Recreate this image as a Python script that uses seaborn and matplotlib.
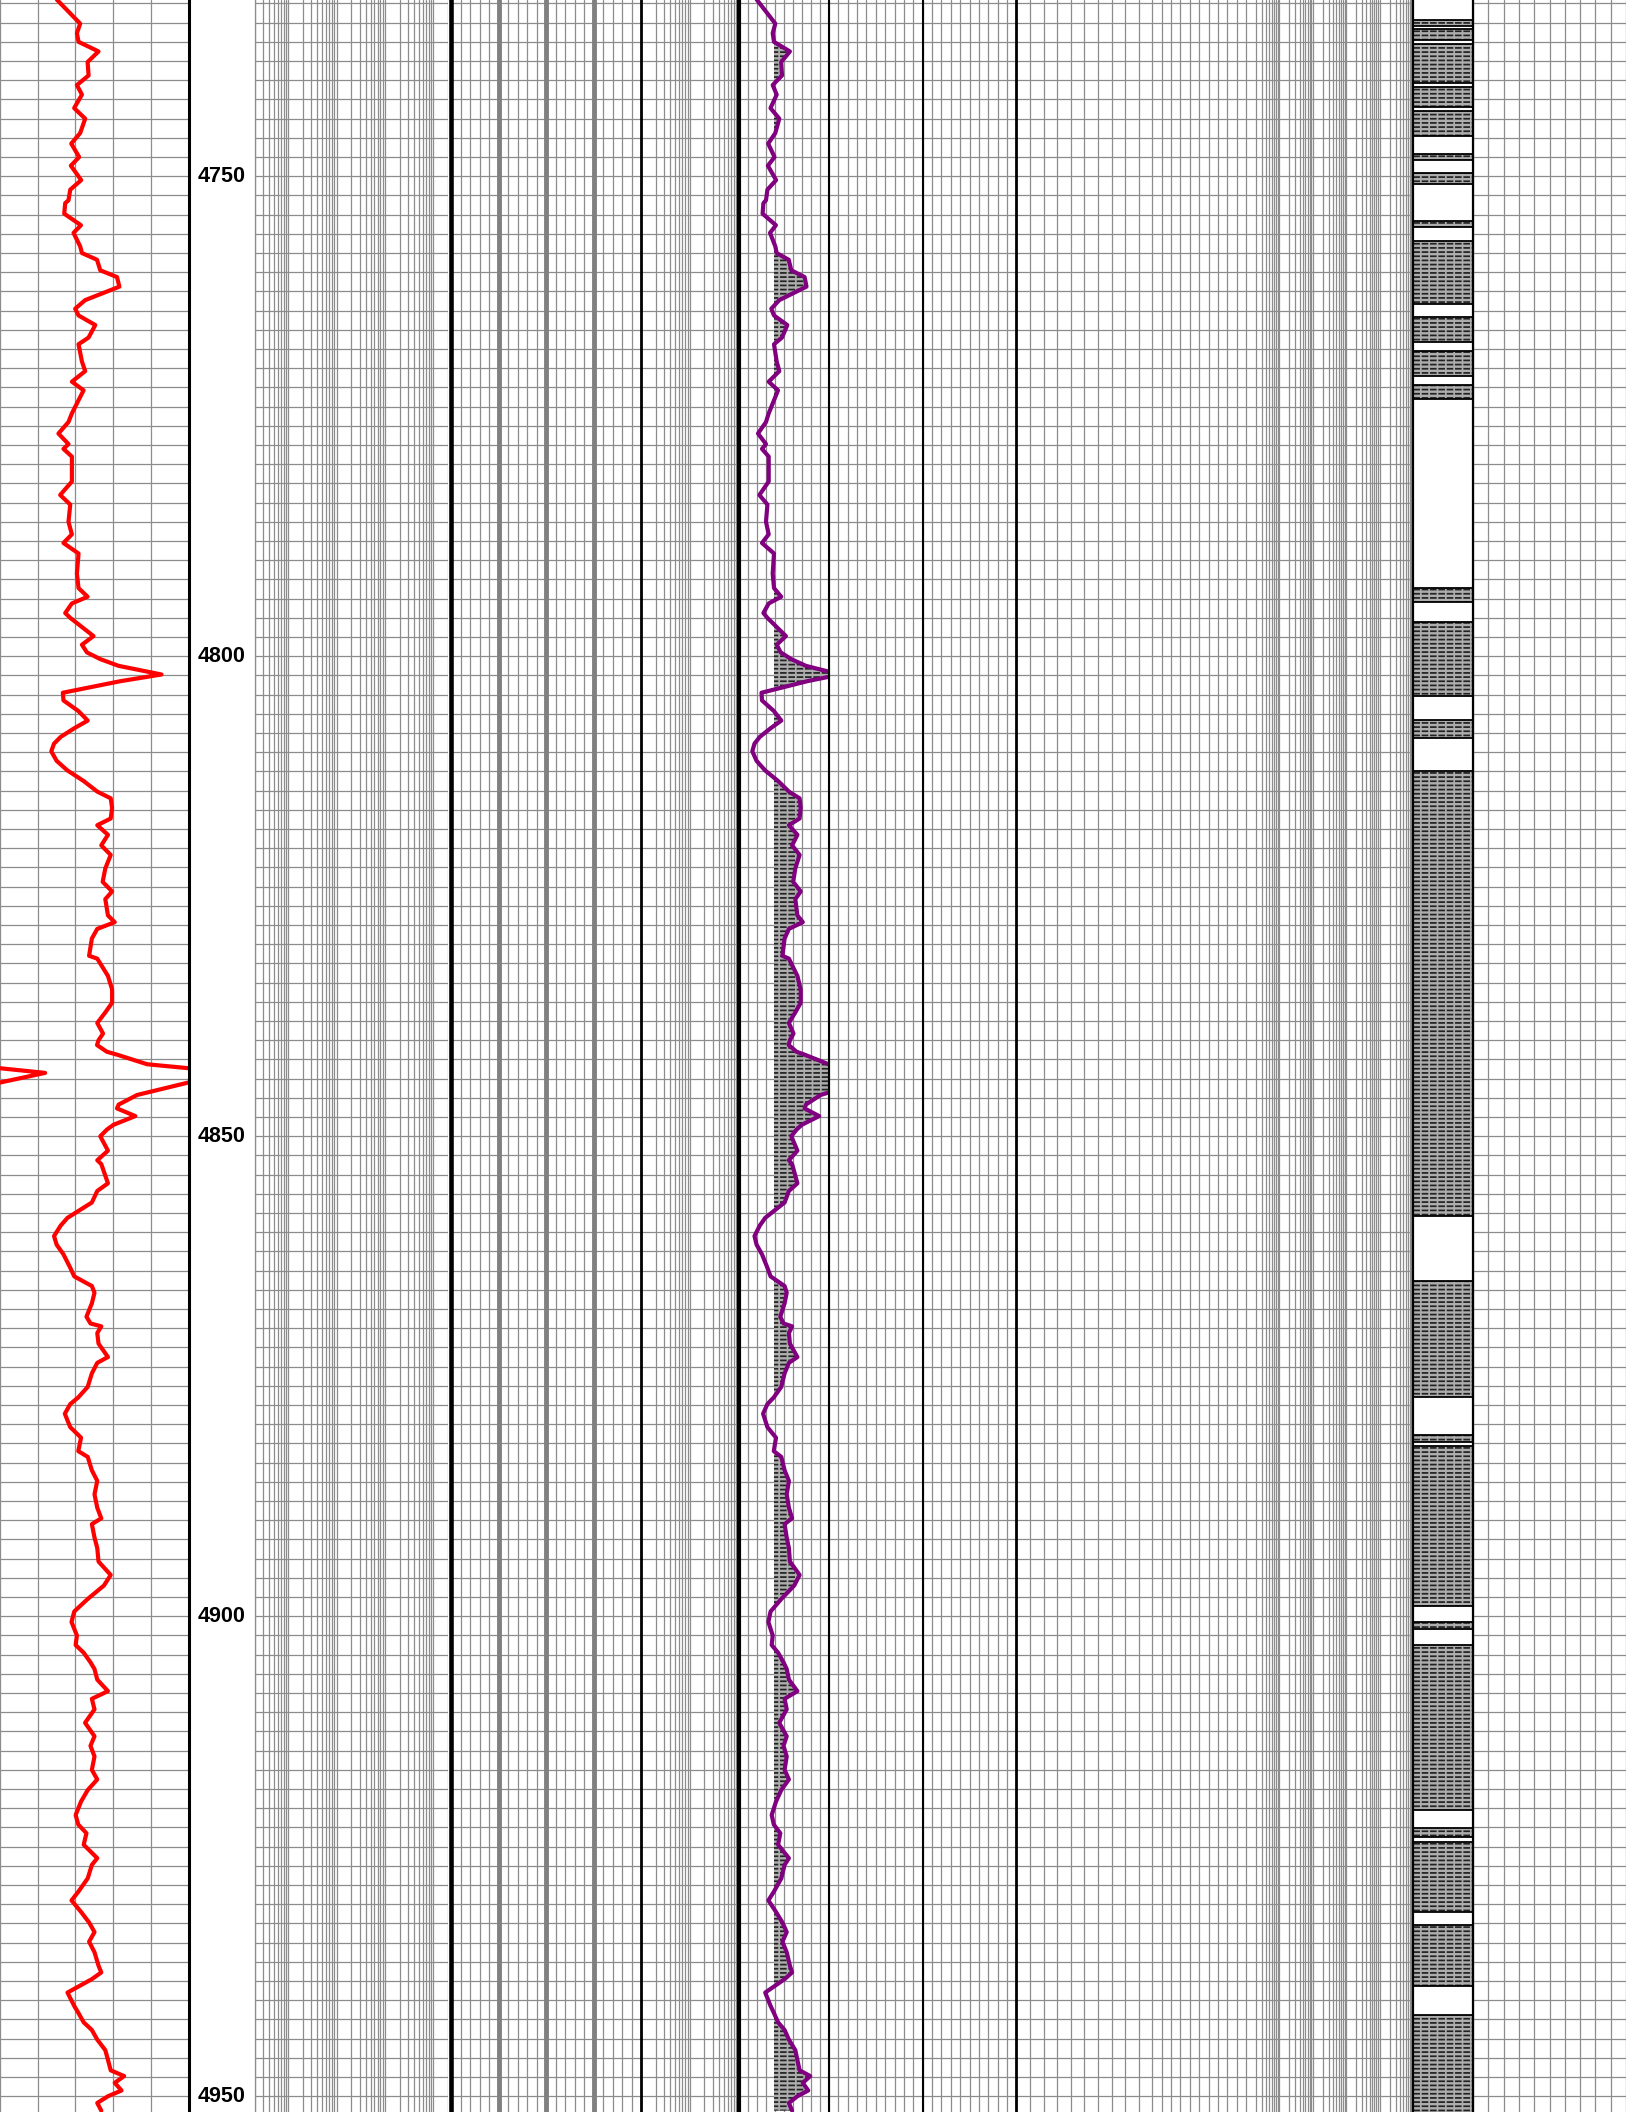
import numpy as np
import pandas as pd
import matplotlib
matplotlib.use("Agg")
import matplotlib.pyplot as plt
import seaborn as sns
from matplotlib.ticker import MultipleLocator, LogLocator, FixedLocator, NullLocator

sns.set_theme(style="white")
plt.rcParams["font.family"] = ["Liberation Sans", "DejaVu Sans"]
plt.rcParams["hatch.linewidth"] = 1.25

# ---------------- data ----------------
depth_gr = [
    4731.6, 4734.1, 4735.1, 4736.0, 4737.0, 4738.1, 4739.5, 4740.5, 4741.5, 4742.9,
    4744.0, 4745.5, 4746.6, 4748.0, 4748.9, 4750.4, 4751.4, 4752.5, 4752.8, 4753.9,
    4755.1, 4755.9, 4757.3, 4758.0, 4758.7, 4759.8, 4760.5, 4761.5, 4762.9,
    4763.8, 4764.5, 4765.5, 4766.8, 4767.5, 4769.3, 4770.3, 4771.4, 4772.3, 4774.7,
    4775.6, 4776.8, 4777.9, 4778.4, 4779.2, 4781.8, 4783.2, 4784.2, 4786.0, 4787.3,
    4788.2, 4789.3, 4791.4, 4792.9, 4793.8, 4794.5, 4795.5, 4796.0, 4797.9, 4798.8,
    4799.6, 4800.3, 4801.0, 4801.9, 4802.6, 4803.8,
    4804.6, 4805.7, 4806.7, 4807.5, 4808.4, 4809.1, 4809.9, 4810.9, 4811.9, 4813.0,
    4814.1, 4814.8, 4815.8, 4816.9, 4817.6, 4818.6, 4819.7, 4820.7, 4822.1, 4823.5,
    4824.5, 4825.3, 4827.0, 4827.7, 4828.4, 4829.4, 4831.2, 4831.5, 4833.3, 4834.7,
    4836.1, 4837.1, 4838.2, 4839.3,
    4840.0, 4840.5, 4841.2, 4841.5, 4842.5, 4842.9, 4843.4, 4844.4, 4845.7, 4846.7,
    4847.1, 4847.9, 4848.8, 4849.3, 4850.0,
    4851.5, 4852.5, 4852.9, 4854.9, 4855.7, 4856.9, 4858.5, 4859.3, 4860.4, 4861.3,
    4862.3, 4863.7, 4864.6, 4865.6, 4866.3, 4867.4, 4868.8, 4869.5, 4869.8, 4870.5,
    4871.6, 4873.0, 4873.6, 4874.7, 4876.1, 4877.2, 4877.9, 4878.9, 4879.6, 4880.3,
    4881.4, 4882.8, 4883.4, 4884.8, 4885.9, 4887.3, 4888.7, 4889.8, 4890.4, 4891.8,
    4892.9, 4894.3, 4895.7, 4896.8, 4898.2, 4899.5, 4900.6, 4902.0, 4903.0, 4903.8,
    4904.8, 4905.5, 4906.6, 4907.8, 4908.6, 4909.7, 4911.1, 4912.5, 4913.5, 4914.6,
    4916.0, 4917.0, 4918.1, 4919.3, 4920.7, 4921.7, 4922.6, 4923.8, 4925.2, 4925.9,
    4927.3, 4928.7, 4929.6, 4930.8, 4931.9, 4932.9, 4933.9, 4935.0, 4936.4, 4937.1,
    4937.8, 4939.2, 4940.6, 4941.3, 4942.3, 4943.1, 4944.1, 4945.2, 4946.2, 4947.3,
    4947.9, 4948.6, 4949.4, 4950.0, 4950.7, 4951.5,
]
gr = [
    45.2, 63.8, 61.2, 62.5, 78.4, 69.7, 70.5, 61.2, 65.2, 59.0,
    67.8, 63.8, 56.7, 63.0, 56.4, 64.6, 55.9, 54.5, 51.9, 51.1,
    64.4, 58.5, 63.8, 65.2, 77.2, 79.8, 93.1, 95.0, 67.8,
    59.8, 62.5, 75.8, 70.5, 62.5, 65.2, 67.8, 57.2, 66.5, 57.2,
    54.5, 46.5, 54.5, 50.5, 57.2, 57.2, 47.9, 55.9, 54.5, 57.2,
    50.5, 62.5, 61.2, 62.5, 69.7, 57.2, 51.9, 55.9, 74.4, 65.2,
    69.2, 79.8, 94.4, 128.5, 95.7, 50.0,
    50.5, 62.3, 69.8, 59.1, 48.3, 43.0, 40.8, 45.1, 53.7, 66.6,
    77.4, 88.1, 89.2, 88.1, 77.4, 85.9, 80.6, 88.1, 83.8, 81.7,
    89.2, 83.8, 85.9, 91.3, 77.4, 73.1, 70.9, 77.4, 85.9, 89.2,
    89.2, 83.8, 77.4, 82.0,
    78.4, 77.2, 85.1, 93.1, 117.1, 149.0, 185.9, 150.0, 109.1, 94.4,
    93.1, 107.7, 90.4, 85.1, 79.8,
    85.9, 77.4, 80.6, 85.9, 77.4, 73.1, 53.7, 48.3, 43.0, 45.1,
    50.5, 55.9, 59.1, 73.1, 75.2, 73.1, 68.8, 72.0, 80.6, 77.4,
    78.4, 85.9, 77.4, 73.1, 69.8, 62.3, 55.9, 51.6, 53.7, 55.9,
    64.5, 62.3, 69.8, 73.1, 77.4, 75.2, 77.4, 80.6, 73.1, 75.2,
    77.4, 78.4, 88.1, 82.7, 69.8, 59.1, 56.9, 61.2, 60.2, 66.6,
    72.0, 75.2, 77.4, 85.9, 73.1, 75.2, 67.7, 75.2, 72.0, 75.2,
    73.1, 77.4, 69.8, 64.5, 60.2, 62.3, 68.8, 66.6, 77.4, 73.1,
    69.8, 62.3, 56.9, 64.5, 70.9, 75.2, 70.9, 75.2, 78.4, 80.6,
    73.1, 53.7, 59.1, 62.3, 66.6, 73.1, 77.4, 83.8, 85.9, 88.1,
    98.8, 91.3, 96.7, 85.9, 77.4, 80.6,
]

shale_top = [
    4733.7, 4734.7, 4736.2, 4740.7, 4743.2, 4747.7, 4749.7, 4754.7, 4756.7, 4764.7,
    4768.2, 4771.7, 4792.9, 4796.4, 4806.6, 4812.0, 4865.1, 4881.1, 4882.3, 4900.6,
    4903.0, 4922.1, 4923.5, 4932.2, 4941.5,
]
shale_base = [
    4734.3, 4735.8, 4740.25, 4742.8, 4745.8, 4748.3, 4750.8, 4755.3, 4763.3, 4767.3,
    4770.8, 4773.2, 4794.3, 4804.1, 4808.5, 4858.3, 4877.2, 4881.9, 4898.9, 4901.3,
    4920.2, 4923.0, 4930.8, 4938.5, 4953.0,
]

depth_labels = [4750, 4800, 4850, 4900, 4950]

TOP, BASE = 4731.64, 4951.64
GR_MIN, GR_MAX = 0, 150
GR2_MIN, GR2_MAX = 27.0, 117.5
GR_CUTOFF = 62.5

df = pd.DataFrame({"DEPTH": depth_gr, "GR": gr})
df["GR_WRAP"] = df["GR"] - (GR_MAX - GR_MIN)

# ---------------- layout ----------------
W, H = 1632, 2112
fig = plt.figure(figsize=(W / 100, H / 100), dpi=100)
fig.patch.set_facecolor("white")

GRID = "#8c8c8c"
GLW = 0.9
SH_FACE = "#adadad"
SH_DASH = "#222222"


def track(x0, x1, hgrid=True):
    ax = fig.add_axes([x0 / W, 0, (x1 - x0) / W, 1])
    ax.set_ylim(BASE, TOP)
    for s in ax.spines.values():
        s.set_visible(False)
    ax.set_facecolor("none")
    if hgrid:
        ax.yaxis.set_major_locator(MultipleLocator(2))
        ax.grid(axis="y", which="major", color=GRID, lw=GLW)
    else:
        ax.yaxis.set_major_locator(NullLocator())
    ax.yaxis.set_minor_locator(NullLocator())
    ax.tick_params(which="both", left=False, right=False, top=False, bottom=False,
                   labelleft=False, labelbottom=False)
    ax.set_axisbelow(True)
    return ax


def lin_grid(ax, lo, hi, n):
    ax.set_xlim(lo, hi)
    ax.xaxis.set_major_locator(FixedLocator(np.linspace(lo, hi, n + 1)))
    ax.xaxis.set_minor_locator(NullLocator())
    ax.grid(axis="x", which="major", color=GRID, lw=GLW)


def log_grid(ax, lo, hi):
    ax.set_xscale("log")
    ax.set_xlim(lo, hi)
    ax.xaxis.set_major_locator(LogLocator(base=10, numticks=50))
    ax.xaxis.set_minor_locator(LogLocator(base=10, subs=np.arange(2, 10) * 1.0, numticks=200))
    ax.grid(axis="x", which="both", color=GRID, lw=GLW)


def left_edge(ax, lw, color="black"):
    ax.spines["left"].set_visible(True)
    ax.spines["left"].set_color(color)
    ax.spines["left"].set_linewidth(lw)
    ax.spines["left"].set_zorder(5)


def finish(ax, lo, hi):
    ax.set_xlim(lo, hi)
    ax.set_ylim(BASE, TOP)
    ax.set_xlabel("")
    ax.set_ylabel("")


# Track 1: gamma ray (with wrap-around)
ax_gr = track(0, 188.5)
lin_grid(ax_gr, GR_MIN, GR_MAX, 5)
for col in ["GR", "GR_WRAP"]:
    sns.lineplot(data=df, x=col, y="DEPTH", orient="y", sort=False, estimator=None,
                 color="red", lw=3.0, ax=ax_gr, legend=False)
finish(ax_gr, GR_MIN, GR_MAX)

# Depth track
ax_d = track(188.5, 254.5, hgrid=False)
ax_d.set_xlim(0, 1)
ax_d.xaxis.set_major_locator(NullLocator())
left_edge(ax_d, 2.2)
for d in depth_labels:
    ax_d.text(0.5, d, str(d), ha="center", va="center", fontsize=15.5,
              fontweight="bold", color="black")

# Resistivity (log)
ax_res = track(254.5, 448)
log_grid(ax_res, 0.2, 2000)
left_edge(ax_res, GLW, GRID)

# Porosity (linear, 20 divisions)
ax_por = track(451, 641)
lin_grid(ax_por, 0.45, -0.15, 20)
for v in [0.30, 0.15, 0.0]:
    ax_por.axvline(v, color="#808080", lw=3.5, zorder=1)
left_edge(ax_por, 3.3)

# Log track 2
ax_log2 = track(641, 738.5)
log_grid(ax_log2, 1, 100)
left_edge(ax_log2, 2.0)

# Gamma ray shading track
ax_sh = track(738.5, 829)
lin_grid(ax_sh, GR2_MIN, GR2_MAX, 10)
gr_arr = df["GR"].to_numpy()
mask = gr_arr > GR_CUTOFF
ax_sh.fill_betweenx(df["DEPTH"], GR_CUTOFF, gr_arr, where=mask, interpolate=True,
                    facecolor=SH_FACE, hatch="----", edgecolor=SH_DASH, lw=0, zorder=2)
ax_sh.fill_betweenx(df["DEPTH"], GR_CUTOFF, gr_arr, where=mask, interpolate=True,
                    facecolor="none", hatch="||", edgecolor=SH_FACE, lw=0, zorder=2.1)
sns.lineplot(data=df, x="GR", y="DEPTH", orient="y", sort=False, estimator=None,
             color="#800080", lw=3.0, ax=ax_sh, legend=False, zorder=3)
finish(ax_sh, GR2_MIN, GR2_MAX)
left_edge(ax_sh, 3.0)

# Empty linear tracks
ax_e1 = track(829, 922.7)
lin_grid(ax_e1, 0, 10, 10)
left_edge(ax_e1, 1.5)
ax_e2 = track(922.7, 1016.5)
lin_grid(ax_e2, 0, 10, 10)
left_edge(ax_e2, 1.5)

# Mixed track
ax_ma = track(1016.5, 1152.3)
lin_grid(ax_ma, 0, 10, 10)
left_edge(ax_ma, 2.0)
ax_mb = track(1152.3, 1246)
lin_grid(ax_mb, 0, 10, 10)
ax_mc = track(1246, 1413)
log_grid(ax_mc, 0.1, 10000)

# Lithology column
ax_l = track(1413, 1473, hgrid=False)
ax_l.set_xlim(0, 1)
ax_l.xaxis.set_major_locator(NullLocator())
tops = np.array(shale_top)
bases = np.array(shale_base)
centers = (tops + bases) / 2
heights = bases - tops
ax_l.barh(y=centers, width=1, height=heights, left=0, color=SH_FACE, hatch="----",
          edgecolor=SH_DASH, lw=0, zorder=2)
ax_l.barh(y=centers, width=1, height=heights, left=0, color="none", hatch="||",
          edgecolor=SH_FACE, lw=0, zorder=2.1)
ax_l.barh(y=centers, width=1, height=heights, left=0, color="none",
          edgecolor="black", lw=1.3, zorder=2.2)
ax_l.set_ylim(BASE, TOP)
left_edge(ax_l, 1.6)

# Last track
ax_last = track(1473, 1626)
lin_grid(ax_last, 0, 10, 10)
left_edge(ax_last, 1.6)

fig.savefig("out.png", dpi=100, facecolor="white")
